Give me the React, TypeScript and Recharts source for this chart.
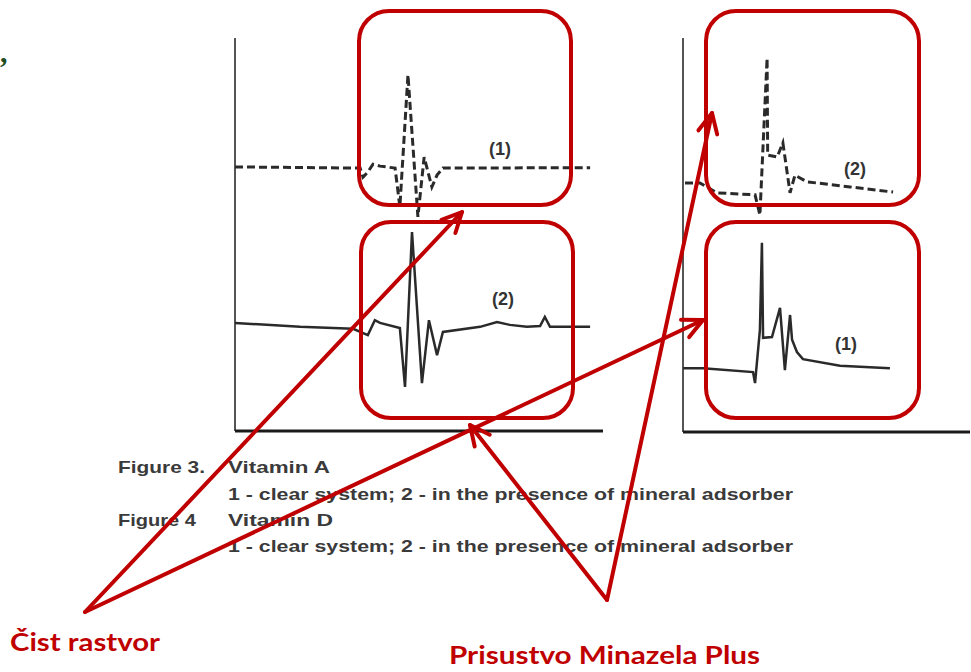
import React from 'react';
import { LineChart, Line, XAxis, YAxis, ReferenceLine } from 'recharts';

// Figure 3 (vitamin A) – time vs detector signal, both in % of axis range
const vitA1 = [
  { t: 0, s: 67.2 }, { t: 34.0, s: 66.9 }, { t: 34.8, s: 64.6 }, { t: 36.1, s: 65.9 },
  { t: 37.5, s: 67.9 }, { t: 39.4, s: 67.4 }, { t: 43.5, s: 66.9 }, { t: 44.8, s: 57.0 },
  { t: 47.0, s: 90.6 }, { t: 49.7, s: 54.5 }, { t: 51.4, s: 69.7 }, { t: 53.5, s: 62.1 },
  { t: 54.9, s: 65.1 }, { t: 56.5, s: 66.9 }, { t: 96.5, s: 67.0 },
];
const vitA2 = [
  { t: 0, s: 27.5 }, { t: 17.7, s: 26.5 }, { t: 32.1, s: 26.0 }, { t: 36.1, s: 24.4 },
  { t: 38.0, s: 28.2 }, { t: 39.4, s: 27.5 }, { t: 44.8, s: 26.2 }, { t: 46.2, s: 11.2 },
  { t: 48.1, s: 50.6 }, { t: 50.8, s: 12.2 }, { t: 52.7, s: 28.2 }, { t: 54.9, s: 19.3 },
  { t: 56.5, s: 25.2 }, { t: 66.6, s: 26.5 }, { t: 71.2, s: 27.7 }, { t: 74.7, s: 27.0 },
  { t: 79.3, s: 26.5 }, { t: 82.9, s: 26.7 }, { t: 84.2, s: 29.0 }, { t: 85.6, s: 26.5 },
  { t: 96.5, s: 26.5 },
];

// Figure 4 (vitamin D)
const vitD2 = [
  { t: 0.7, s: 63.2 }, { t: 5.9, s: 63.2 }, { t: 11.8, s: 60.7 }, { t: 25.1, s: 60.2 },
  { t: 26.8, s: 55.1 }, { t: 29.3, s: 94.9 }, { t: 29.5, s: 70.3 }, { t: 32.8, s: 69.8 },
  { t: 34.8, s: 73.4 }, { t: 37.3, s: 60.7 }, { t: 39.0, s: 65.2 }, { t: 43.2, s: 63.5 },
  { t: 58.2, s: 62.2 }, { t: 73.2, s: 60.9 },
];
const vitD1 = [
  { t: 0, s: 16.2 }, { t: 7.0, s: 16.2 }, { t: 24.4, s: 15.2 }, { t: 25.1, s: 12.4 },
  { t: 26.8, s: 25.9 }, { t: 27.5, s: 48.0 }, { t: 27.9, s: 23.9 }, { t: 31.0, s: 24.1 },
  { t: 33.8, s: 31.5 }, { t: 35.5, s: 15.7 }, { t: 37.3, s: 29.7 }, { t: 38.0, s: 23.4 },
  { t: 39.7, s: 20.3 }, { t: 41.8, s: 18.5 }, { t: 54.7, s: 16.8 }, { t: 72.1, s: 16.2 },
];

const captions = [
  'Figure 3.', 'Vitamin A',
  '1 - clear system; 2 - in the presence of mineral adsorber',
  'Figure 4', 'Vitamin D',
  '1 - clear system; 2 - in the presence of mineral adsorber',
];
const labelClear = 'Čist rastvor';
const labelMinazel = 'Prisustvo Minazela Plus';

const RED = '#c00000';
const INK = '#2a2a2a';

function arrowHead(x1: number, y1: number, x2: number, y2: number, len = 22, spread = 0.45) {
  const a = Math.atan2(y1 - y2, x1 - x2);
  const p1 = [x2 + len * Math.cos(a + spread), y2 + len * Math.sin(a + spread)];
  const p2 = [x2 + len * Math.cos(a - spread), y2 + len * Math.sin(a - spread)];
  return `${p1[0]},${p1[1]} ${x2},${y2} ${p2[0]},${p2[1]}`;
}

function Arrow({ from, to }: { from: number[]; to: number[] }) {
  return (
    <g stroke={RED} strokeWidth={4} fill="none" strokeLinecap="round" strokeLinejoin="round">
      <line x1={from[0]} y1={from[1]} x2={to[0]} y2={to[1]} />
      <polyline points={arrowHead(from[0], from[1], to[0], to[1])} />
    </g>
  );
}

function Trace({ data, dashed }: { data: any[]; dashed?: boolean }) {
  return (
    <Line
      data={data}
      dataKey="s"
      type="linear"
      stroke={INK}
      strokeWidth={dashed ? 3 : 2.5}
      strokeDasharray={dashed ? '8 4' : undefined}
      dot={false}
      isAnimationActive={false}
    />
  );
}

function Panel({ children, width, height, margin, left, top }: any) {
  return (
    <div style={{ position: 'absolute', left, top }}>
      <LineChart width={width} height={height} margin={margin}>
        <XAxis type="number" dataKey="t" domain={[0, 100]} hide />
        <YAxis type="number" domain={[0, 100]} hide />
        <ReferenceLine x={0} stroke="#555" strokeWidth={2} ifOverflow="extendDomain" />
        <ReferenceLine y={0} stroke="#1a1a1a" strokeWidth={3} ifOverflow="extendDomain" />
        {children}
      </LineChart>
    </div>
  );
}

export default function App() {
  return (
    <div style={{ position: 'absolute', left: 0, top: 0, width: 971, height: 672, background: '#fff', overflow: 'hidden' }}>
      <Panel left={225} top={28} width={390} height={415} margin={{ top: 10, right: 12, bottom: 12, left: 10 }}>
        <Trace data={vitA1} dashed />
        <Trace data={vitA2} />
      </Panel>
      <Panel left={673} top={28} width={298} height={416} margin={{ top: 10, right: 1, bottom: 12, left: 10 }}>
        <Trace data={vitD2} dashed />
        <Trace data={vitD1} />
      </Panel>

      <svg width={971} height={672} style={{ position: 'absolute', left: 0, top: 0, pointerEvents: 'none' }}>
        <g fontFamily="'Liberation Sans', Arial, sans-serif" fontWeight="bold" fill="#333" fontSize={18}>
          <text x={489} y={155}>(1)</text>
          <text x={492} y={305}>(2)</text>
          <text x={844} y={175}>(2)</text>
          <text x={835} y={350}>(1)</text>
        </g>
        <g fontFamily="'Liberation Sans', Arial, sans-serif" fontWeight="bold" fill="#3a3a3a" fontSize={17}>
          <text x={118} y={473} textLength={87} lengthAdjust="spacingAndGlyphs">{captions[0]}</text>
          <text x={228} y={473} textLength={102} lengthAdjust="spacingAndGlyphs">{captions[1]}</text>
          <text x={228} y={500} textLength={565} lengthAdjust="spacingAndGlyphs">{captions[2]}</text>
          <text x={118} y={526} textLength={78} lengthAdjust="spacingAndGlyphs">{captions[3]}</text>
          <text x={228} y={526} textLength={105} lengthAdjust="spacingAndGlyphs">{captions[4]}</text>
          <text x={228} y={552} textLength={565} lengthAdjust="spacingAndGlyphs">{captions[5]}</text>
        </g>

        <g stroke={RED} strokeWidth={4} fill="none">
          <rect x={359} y={11} width={212} height={194} rx={30} />
          <rect x={361} y={222} width={212} height={196} rx={30} />
          <rect x={706} y={11} width={213} height={194} rx={30} />
          <rect x={706} y={222} width={213} height={196} rx={30} />
        </g>

        <Arrow from={[85, 612]} to={[462, 212]} />
        <Arrow from={[85, 612]} to={[703, 320]} />
        <Arrow from={[607, 600]} to={[470, 425]} />
        <Arrow from={[607, 600]} to={[712, 113]} />

        <text x={0} y={62} fill="#1f4d1f" fontSize={30} fontWeight="bold" fontFamily="'Liberation Serif', serif">,</text>

        <g fill={RED} fontFamily="Lato, 'Open Sans', sans-serif" fontWeight="bold" fontSize={25}>
          <text x={10} y={651} textLength={150} lengthAdjust="spacingAndGlyphs">{labelClear}</text>
          <text x={449} y={664} textLength={311} lengthAdjust="spacingAndGlyphs">{labelMinazel}</text>
        </g>
      </svg>
    </div>
  );
}
